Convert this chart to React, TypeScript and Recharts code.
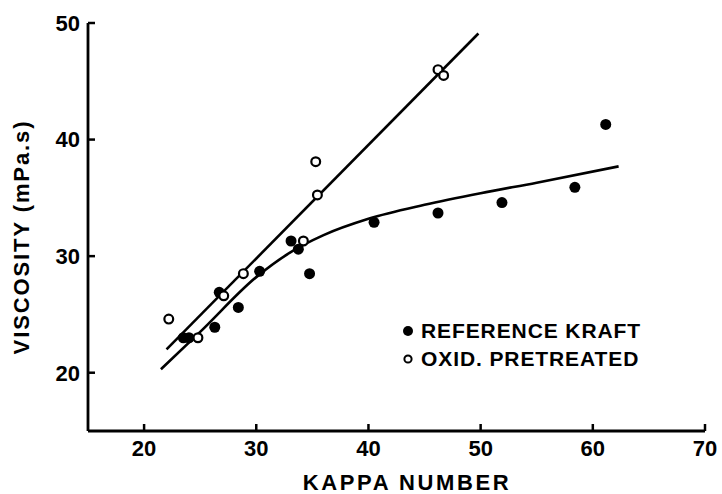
import React from 'react';
import { ComposedChart, XAxis, YAxis, Scatter, Line, Legend } from 'recharts';

const kappaTicks = [20, 30, 40, 50, 60, 70];
const viscTicks = [20, 30, 40, 50];

const kraftKappa = [23.5, 24.0, 26.3, 26.7, 28.4, 30.3, 33.1, 33.75, 34.75, 40.5, 46.2, 51.9, 58.4, 61.15];
const kraftVisc = [23.0, 23.0, 23.9, 26.9, 25.6, 28.7, 31.3, 30.6, 28.5, 32.9, 33.7, 34.6, 35.9, 41.3];

const oxidKappa = [22.2, 24.8, 27.1, 28.85, 34.2, 35.3, 35.45, 46.2, 46.7];
const oxidVisc = [24.6, 23.0, 26.6, 28.5, 31.3, 38.1, 35.25, 46.0, 45.5];

const kraftCurveKappa = [21.5, 25, 30, 33, 36, 40, 45, 50, 55, 62.3];
const kraftCurveVisc = [20.3, 23.5, 28.2, 30.3, 31.8, 33.2, 34.4, 35.4, 36.3, 37.7];

const oxidLineKappa = [22.0, 49.8];
const oxidLineVisc = [22.0, 49.1];

const seriesNames = ['REFERENCE KRAFT', 'OXID. PRETREATED'];
const xTitle = 'KAPPA NUMBER';
const yTitle = 'VISCOSITY (mPa.s)';

const zip = (xs: number[], ys: number[]) => xs.map((x, i) => ({ x, y: ys[i] }));

const kraftPts = zip(kraftKappa, kraftVisc);
const oxidPts = zip(oxidKappa, oxidVisc);
const kraftCurve = zip(kraftCurveKappa, kraftCurveVisc);
const oxidLine = zip(oxidLineKappa, oxidLineVisc);

const FONT = '"Liberation Sans", Arial, Helvetica, sans-serif';

const FilledDot = (p: any) => <circle cx={p.cx} cy={p.cy} r={5.5} fill="#000" />;
const OpenDot = (p: any) => (
  <circle cx={p.cx} cy={p.cy} r={4.4} fill="#fff" stroke="#000" strokeWidth={2.2} />
);

const tickStyle = { fill: '#000', fontSize: 22, fontWeight: 700, fontFamily: FONT };

const LegendBox = () => (
  <div style={{ fontFamily: FONT, fontWeight: 700, fontSize: 21, color: '#000' }}>
    {seriesNames.map((n, i) => (
      <div key={n} style={{ display: 'flex', alignItems: 'center', height: 28 }}>
        <svg width={14} height={14} style={{ marginRight: 6 }}>
          {i === 0 ? (
            <circle cx={7} cy={7} r={5} fill="#000" />
          ) : (
            <circle cx={7} cy={7} r={3.6} fill="#fff" stroke="#000" strokeWidth={2} />
          )}
        </svg>
        <span style={{ letterSpacing: 0.9, whiteSpace: 'pre' }}>{n}</span>
      </div>
    ))}
  </div>
);

export default function App() {
  return (
    <div style={{ position: 'absolute', left: 0, top: 0, width: 722, height: 494, background: '#fff' }}>
      <ComposedChart width={722} height={494} margin={{ top: 23, right: 17, bottom: 0, left: 0 }}>
        <XAxis
          type="number"
          dataKey="x"
          domain={[15, 70]}
          ticks={kappaTicks}
          allowDataOverflow
          height={63}
          axisLine={{ stroke: '#000', strokeWidth: 2.8 }}
          tickLine={{ stroke: '#000', strokeWidth: 2.5 }}
          tickSize={-7}
          tickMargin={16}
          tick={tickStyle}
          label={{
            content: () => (
              <text x={407} y={490} textAnchor="middle" fontFamily={FONT} fontWeight={700} fontSize={22} letterSpacing={2.6} fill="#000">
                {xTitle}
              </text>
            ),
          }}
        />
        <YAxis
          type="number"
          dataKey="y"
          domain={[15, 50]}
          ticks={viscTicks}
          allowDataOverflow
          width={88}
          axisLine={{ stroke: '#000', strokeWidth: 2.8 }}
          tickLine={{ stroke: '#000', strokeWidth: 2.5 }}
          tickSize={-7}
          tickMargin={15}
          tick={tickStyle}
          label={{
            content: () => (
              <text
                x={21}
                y={237}
                transform="rotate(-90 21 237)"
                textAnchor="middle"
                dominantBaseline="central"
                fontFamily={FONT}
                fontWeight={700}
                fontSize={22}
                letterSpacing={1.9}
                fill="#000"
              >
                {yTitle}
              </text>
            ),
          }}
        />
        <Line data={oxidLine} dataKey="y" type="linear" stroke="#000" strokeWidth={2.6} dot={false} isAnimationActive={false} legendType="none" />
        <Line data={kraftCurve} dataKey="y" type="monotone" stroke="#000" strokeWidth={2.6} dot={false} isAnimationActive={false} legendType="none" />
        <Scatter name={seriesNames[0]} data={kraftPts} dataKey="y" shape={FilledDot} isAnimationActive={false} />
        <Scatter name={seriesNames[1]} data={oxidPts} dataKey="y" shape={OpenDot} isAnimationActive={false} />
        <Legend
          layout="vertical"
          align="center"
          verticalAlign="middle"
          wrapperStyle={{ left: 401, top: 317, width: 300, height: 60 }}
          content={() => <LegendBox />}
        />
      </ComposedChart>
    </div>
  );
}
